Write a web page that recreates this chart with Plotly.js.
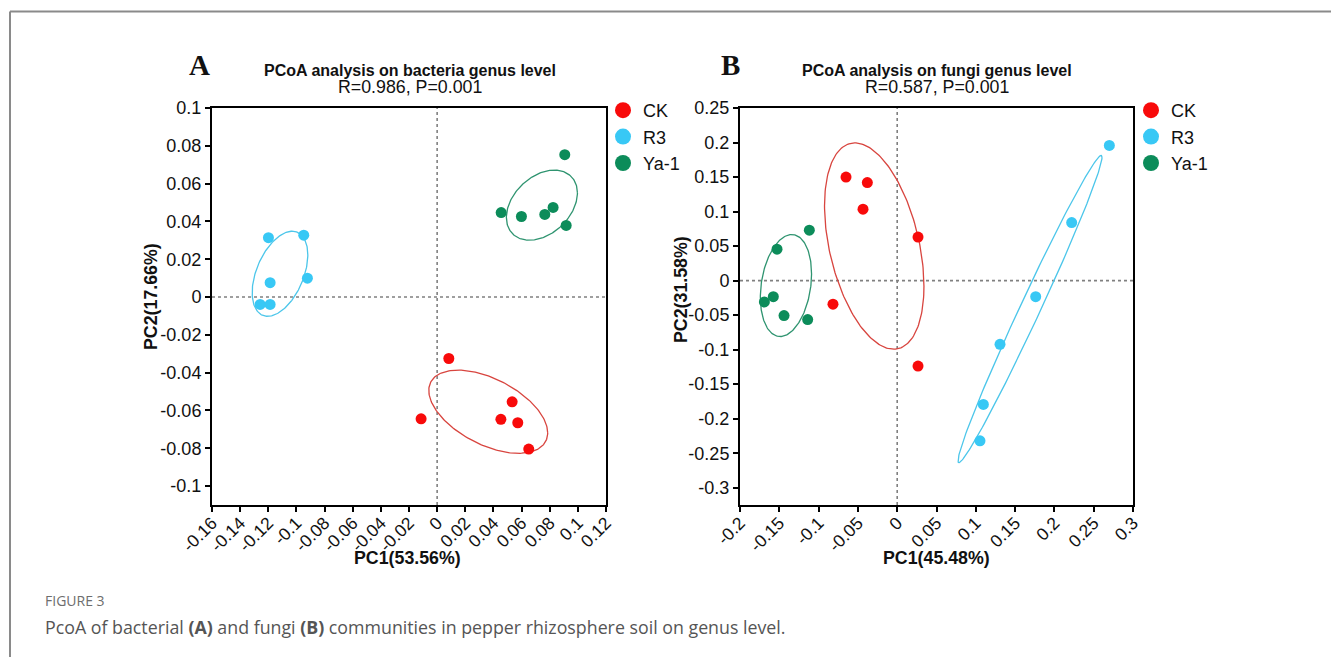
<!DOCTYPE html>
<html>
<head>
<meta charset="utf-8">
<script src="https://cdn.plot.ly/plotly-3.0.1.min.js"></script>
<style>
html,body{margin:0;padding:0;background:#fff;}
#chart{width:1331px;height:657px;}
</style>
</head>
<body>
<div id="chart"></div>
<script>
// ---------- data ----------
const groups = ['CK', 'R3', 'Ya-1'];

// Panel A: bacteria
const bacCK_x = [0.0083, -0.0114, 0.0533, 0.0453, 0.0573, 0.0651];
const bacCK_y = [-0.0325, -0.0644, -0.0554, -0.0647, -0.0665, -0.0804];
const bacR3_x = [-0.1199, -0.0948, -0.1187, -0.0922, -0.1258, -0.1187];
const bacR3_y = [0.0314, 0.0327, 0.0076, 0.0100, -0.0039, -0.0039];
const bacYa_x = [0.0455, 0.0599, 0.0765, 0.0824, 0.0917, 0.0907];
const bacYa_y = [0.0447, 0.0426, 0.0437, 0.0474, 0.0379, 0.0753];

// Panel B: fungi
const funCK_x = [-0.0651, -0.0380, -0.0435, 0.0265, -0.0817, 0.0265];
const funCK_y = [0.1500, 0.1420, 0.1035, 0.0630, -0.0342, -0.1237];
const funR3_x = [0.2699, 0.2220, 0.1762, 0.1308, 0.1096, 0.1053];
const funR3_y = [0.1958, 0.0841, -0.0232, -0.0923, -0.1793, -0.2320];
const funYa_x = [-0.1529, -0.1118, -0.1576, -0.1690, -0.1440, -0.1139];
const funYa_y = [0.0455, 0.0731, -0.0232, -0.0309, -0.0507, -0.0565];

// tick labels
const bacXTicks = [-0.16,-0.14,-0.12,-0.1,-0.08,-0.06,-0.04,-0.02,0,0.02,0.04,0.06,0.08,0.1,0.12];
const bacXLabels = ['-0.16','-0.14','-0.12','-0.1','-0.08','-0.06','-0.04','-0.02','0','0.02','0.04','0.06','0.08','0.1','0.12'];
const bacYTicks = [-0.1,-0.08,-0.06,-0.04,-0.02,0,0.02,0.04,0.06,0.08,0.1];
const bacYLabels = ['-0.1','-0.08','-0.06','-0.04','-0.02','0','0.02','0.04','0.06','0.08','0.1'];
const funXTicks = [-0.2,-0.15,-0.1,-0.05,0,0.05,0.1,0.15,0.2,0.25,0.3];
const funXLabels = ['-0.2','-0.15','-0.1','-0.05','0','0.05','0.1','0.15','0.2','0.25','0.3'];
const funYTicks = [-0.3,-0.25,-0.2,-0.15,-0.1,-0.05,0,0.05,0.1,0.15,0.2,0.25];
const funYLabels = ['-0.3','-0.25','-0.2','-0.15','-0.1','-0.05','0','0.05','0.1','0.15','0.2','0.25'];

const panelTitles = ['PCoA analysis on bacteria genus level', 'PCoA analysis on fungi genus level'];
const panelStats = ['R=0.986, P=0.001', 'R=0.587, P=0.001'];
const xTitles = ['PC1(53.56%)', 'PC1(45.48%)'];
const yTitles = ['PC2(17.66%)', 'PC2(31.58%)'];

// ---------- styles ----------
const ptColor = {'CK': '#f80a0a', 'R3': '#38c8f5', 'Ya-1': '#0c8c5a'};
const elColor = {'CK': '#d8453f', 'R3': '#4cc6ea', 'Ya-1': '#2f9470'};
const FONT = 'Liberation Sans, Arial, sans-serif';

// confidence ellipse from the group's covariance (68% level, population covariance)
function ellipse(xs, ys) {
  const n = xs.length;
  const mx = xs.reduce((a, b) => a + b, 0) / n;
  const my = ys.reduce((a, b) => a + b, 0) / n;
  let sxx = 0, syy = 0, sxy = 0;
  for (let i = 0; i < n; i++) {
    sxx += (xs[i] - mx) ** 2; syy += (ys[i] - my) ** 2; sxy += (xs[i] - mx) * (ys[i] - my);
  }
  sxx /= n; syy /= n; sxy /= n;
  const k = Math.sqrt(-2 * Math.log(1 - 0.68));
  const l11 = Math.sqrt(sxx), l21 = sxy / l11, l22 = Math.sqrt(Math.max(syy - l21 * l21, 0));
  const ex = [], ey = [];
  for (let i = 0; i <= 200; i++) {
    const t = 2 * Math.PI * i / 200;
    const c = Math.cos(t), s = Math.sin(t);
    ex.push(mx + k * l11 * c);
    ey.push(my + k * (l21 * c + l22 * s));
  }
  return {ex, ey};
}

const panels = [
  {xa: 'x', ya: 'y', legend: 'legend', data: {'CK': [bacCK_x, bacCK_y], 'R3': [bacR3_x, bacR3_y], 'Ya-1': [bacYa_x, bacYa_y]}},
  {xa: 'x2', ya: 'y2', legend: 'legend2', data: {'CK': [funCK_x, funCK_y], 'R3': [funR3_x, funR3_y], 'Ya-1': [funYa_x, funYa_y]}}
];

const traces = [];
panels.forEach(p => {
  groups.forEach(g => {
    const [xs, ys] = p.data[g];
    const e = ellipse(xs, ys);
    traces.push({x: e.ex, y: e.ey, xaxis: p.xa, yaxis: p.ya, mode: 'lines', type: 'scatter',
      line: {color: elColor[g], width: 1.3}, showlegend: false, hoverinfo: 'skip'});
  });
  groups.forEach(g => {
    const [xs, ys] = p.data[g];
    traces.push({x: xs, y: ys, xaxis: p.xa, yaxis: p.ya, mode: 'markers', type: 'scatter',
      marker: {color: ptColor[g], size: 11}, showlegend: false, name: g});
  });
  groups.forEach(g => {
    traces.push({x: [null], y: [null], xaxis: p.xa, yaxis: p.ya, mode: 'markers', type: 'scatter',
      marker: {color: ptColor[g], size: 16}, name: g, legend: p.legend, legendgroup: g + p.legend, showlegend: true});
  });
});

const W = 1331, H = 657;
const fx = px => px / W, fy = py => 1 - py / H;

function axisX(dom, range, tv, tt) {
  return {domain: dom, range: range, tickvals: tv, ticktext: tt, tickangle: -45,
    showline: true, linecolor: '#000', linewidth: 2, mirror: true,
    ticks: 'outside', ticklen: 5, tickwidth: 2, tickcolor: '#000', ticklabelstandoff: -6,
    showgrid: false, zeroline: false, fixedrange: true,
    tickfont: {family: FONT, size: 17.5, color: '#111'}};
}
function axisY(dom, range, tv, tt, anchor) {
  return {domain: dom, range: range, tickvals: tv, ticktext: tt, anchor: anchor,
    showline: true, linecolor: '#000', linewidth: 2, mirror: true,
    ticks: 'outside', ticklen: 5, tickwidth: 2, tickcolor: '#000',
    showgrid: false, zeroline: false, fixedrange: true,
    tickfont: {family: FONT, size: 18, color: '#111'}};
}

const yDom = [fy(505), fy(108)];
const bacXR = [-0.16, 0.12], bacYR = [-0.11, 0.1];
const funXR = [-0.2, 0.3], funYR = [-0.325, 0.25];

const dotLine = {color: '#808080', width: 1.6, dash: 'dot'};
const shapes = [
  {type: 'line', xref: 'x', yref: 'y', x0: 0, x1: 0, y0: bacYR[0], y1: bacYR[1], line: dotLine, layer: 'below'},
  {type: 'line', xref: 'x', yref: 'y', x0: bacXR[0], x1: bacXR[1], y0: 0, y1: 0, line: dotLine, layer: 'below'},
  {type: 'line', xref: 'x2', yref: 'y2', x0: 0, x1: 0, y0: funYR[0], y1: funYR[1], line: dotLine, layer: 'below'},
  {type: 'line', xref: 'x2', yref: 'y2', x0: funXR[0], x1: funXR[1], y0: 0, y1: 0, line: dotLine, layer: 'below'},
  // figure frame
  {type: 'line', xref: 'paper', yref: 'paper', x0: fx(10), x1: 1, y0: fy(11.5), y1: fy(11.5), line: {color: '#8a8a8a', width: 2}},
  {type: 'line', xref: 'paper', yref: 'paper', x0: fx(10), x1: fx(10), y0: fy(11.5), y1: 0, line: {color: '#8a8a8a', width: 2}}
];

const ann = [];
const addT = (text, x, y, size, opts) => ann.push(Object.assign({text: text, xref: 'paper', yref: 'paper',
  x: fx(x), y: fy(y), showarrow: false, xanchor: 'center', yanchor: 'middle',
  font: {family: FONT, size: size, color: '#111'}}, opts || {}));

addT('<b>A</b>', 200, 65, 29, {font: {family: 'Liberation Serif, Times New Roman, serif', size: 29, color: '#111'}});
addT('<b>B</b>', 730, 65, 29, {font: {family: 'Liberation Serif, Times New Roman, serif', size: 29, color: '#111'}});
addT('<b>' + panelTitles[0] + '</b>', 410, 71, 16);
addT(panelStats[0], 410, 87, 17.8);
addT('<b>' + panelTitles[1] + '</b>', 937, 71, 16);
addT(panelStats[1], 937, 87, 17.8);
addT('<b>' + xTitles[0] + '</b>', 408, 558, 17.8);
addT('<b>' + xTitles[1] + '</b>', 936, 558, 17.8);
addT('<b>' + yTitles[0] + '</b>', 151, 297, 17.8, {textangle: -90});
addT('<b>' + yTitles[1] + '</b>', 681, 290, 17.8, {textangle: -90});
addT('FIGURE 3', 43, 600, 14, {xanchor: 'left', font: {family: 'Open Sans, sans-serif', size: 14, color: '#6d6d6d'}});
addT('PcoA of bacterial <b>(A)</b> and fungi <b>(B)</b> communities in pepper rhizosphere soil on genus level.', 43, 627, 17.8,
  {xanchor: 'left', font: {family: 'Open Sans, sans-serif', size: 17.8, color: '#555'}});

const legendStyle = (x) => ({x: fx(x), y: fy(92), xanchor: 'left', yanchor: 'top',
  font: {family: FONT, size: 18, color: '#111'}, bgcolor: 'rgba(0,0,0,0)', borderwidth: 0,
  itemwidth: 30, tracegroupgap: 0, traceorder: 'normal'});

const layout = {
  width: W, height: H,
  margin: {l: 0, r: 0, t: 0, b: 0},
  paper_bgcolor: '#fff', plot_bgcolor: '#fff',
  showlegend: true,
  xaxis: Object.assign(axisX([fx(212), fx(606)], bacXR, bacXTicks, bacXLabels), {anchor: 'y'}),
  yaxis: axisY(yDom, bacYR, bacYTicks, bacYLabels, 'x'),
  xaxis2: Object.assign(axisX([fx(740), fx(1133)], funXR, funXTicks, funXLabels), {anchor: 'y2'}),
  yaxis2: axisY(yDom, funYR, funYTicks, funYLabels, 'x2'),
  legend: legendStyle(603),
  legend2: legendStyle(1131),
  shapes: shapes,
  annotations: ann
};

Plotly.newPlot('chart', traces, layout, {displayModeBar: false, staticPlot: true});
</script>
</body>
</html>
